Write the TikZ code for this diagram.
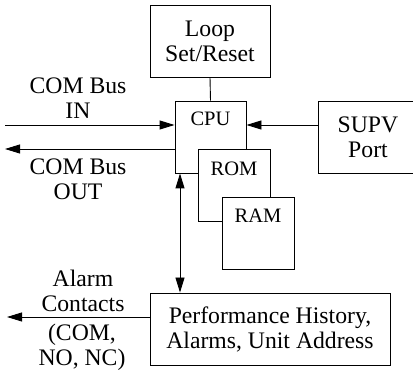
\documentclass[tikz,border=0pt]{standalone}
\usepackage{fontspec}
\setmainfont{Liberation Serif}
\usetikzlibrary{arrows.meta}
\tikzset{
  every node/.style={font=\fontsize{23.7}{25}\selectfont, align=center, inner sep=0pt},
  box/.style={draw, line width=0.9pt, fill=white, minimum height=72pt},
  small/.style={font=\fontsize{20.5}{22}\selectfont},
  line/.style={line width=0.9pt},
  arr/.style={line width=0.9pt, -{Triangle[length=15pt,width=9pt]}},
  arrboth/.style={line width=0.9pt, {Triangle[length=15pt,width=9pt]}-{Triangle[length=15pt,width=9pt]}}
}
\begin{document}
\begin{tikzpicture}[x=1pt,y=-1pt]
\path[use as bounding box, clip] (0,0) rectangle (413,371);
% boxes
\node[box, minimum width=120pt] (loop) at (210,41) {Loop\\Set/Reset};
\node[box, minimum width=71pt] (cpu) at (210.5,137) {};
\node[small] (cputxt) at (210.5,119) {CPU};
\node[box, minimum width=72pt] (rom) at (234,185) {};
\node[small] (romtxt) at (234,169) {ROM};
\node[box, minimum width=72pt] (ram) at (258,233) {};
\node[small] (ramtxt) at (258,216) {RAM};
\node[box, minimum width=100pt] (supv) at (368,137) {SUPV\\Port};
\node[box, minimum width=240pt] (perf) at (270,329) {Performance History,\\Alarms, Unit Address};
% helper coordinates
\coordinate (inL) at (5,125);
\coordinate (outL) at (5,149);
\coordinate (vx) at (180,0);
\coordinate (alL) at (7,317);
% connectors
\draw[line] (loop.south) -- (cpu.north);
\draw[arr] (inL) -- (cpu.west |- inL);
\draw[arr] (supv.west |- inL) -- (cpu.east |- inL);
\draw[arr] (cpu.west |- outL) -- (outL);
\draw[arrboth] (cpu.south -| vx) -- (perf.north -| vx);
\draw[arr] (perf.west |- alL) -- (alL);
% labels
\node (inlab) at (78,98.5) {COM Bus\\IN};
\node (outlab) at (78,179.5) {COM Bus\\OUT};
\node (allab) at (83,290.5) {Alarm\\Contacts};
\node (nolab) at (82,347) {(COM,\\NO, NC)};
\end{tikzpicture}
\end{document}
